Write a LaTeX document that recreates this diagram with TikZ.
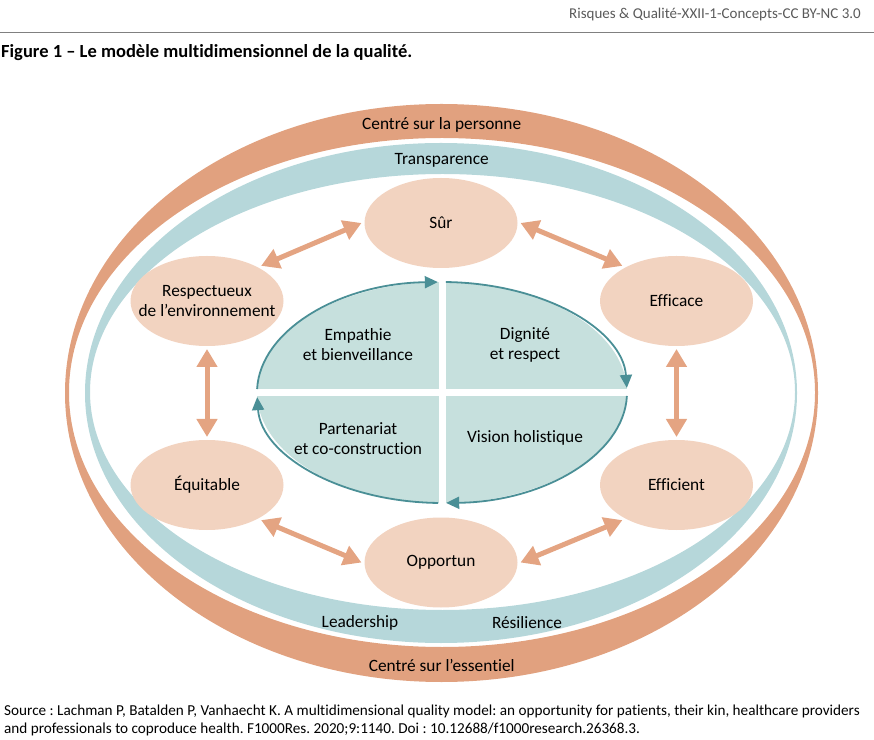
\documentclass[tikz,border=0pt]{standalone}
\usepackage{fontspec}
\setmainfont{Carlito}[Ligatures=NoCommon]
\usetikzlibrary{arrows.meta,shapes.geometric}
\definecolor{bandO}{HTML}{E1A17F}
\definecolor{bandT}{HTML}{B6D7DA}
\definecolor{pale}{HTML}{F2D3C0}
\definecolor{coreF}{HTML}{C6E0DD}
\definecolor{coreL}{HTML}{4A8F96}
\definecolor{arrO}{HTML}{E4A482}
\definecolor{hdrgray}{HTML}{5A5A5A}
\begin{document}
\frenchspacing
\begin{tikzpicture}[x=1pt,y=1pt,
  lbl/.style={font=\fontsize{17.3}{20}\selectfont, align=center, inner sep=0pt},
  dim/.style={ellipse, fill=pale, minimum width=153pt, minimum height=90pt, inner sep=0pt, outer sep=3pt},
  dbl/.style={draw=arrO, line width=5pt, {Triangle[length=18pt,width=20pt]}-{Triangle[length=18pt,width=20pt]}},
  cyc/.style={draw=coreL, line width=1.8pt, -{Triangle[length=13pt,width=12pt]}}]
\useasboundingbox (0,0) rectangle (874,739);
% header
\node[anchor=east, text=hdrgray, font=\fontsize{15}{18}\selectfont, inner sep=0pt] (hdr) at (861,724) {Risques \& Qualité-XXII-1-Concepts-CC BY-NC 3.0};
\draw[gray, line width=0.8pt] (0,707) -- (874,707);
\node[anchor=west, font=\fontsize{18.5}{21}\selectfont\bfseries, inner sep=0pt] (title) at (1,686) {Figure 1 – Le modèle multidimensionnel de la qualité.};
% bands
\fill[bandO, even odd rule] (441.5,346) ellipse[x radius=376.5, y radius=289] (442,346.5) ellipse[x radius=373, y radius=254.5];
\fill[bandT, even odd rule] (441,346) ellipse[x radius=356, y radius=250] (442.5,347) ellipse[x radius=352.5, y radius=218];
\node[lbl] (cp) at (441.7,614) {Centré sur la personne};
\node[lbl] (tr) at (441.7,579) {Transparence};
\node[lbl] (ld) at (360,116.3) {Leadership};
\node[lbl] (rs) at (527,116.3) {Résilience};
\node[lbl] (ce) at (441.7,74) {Centré sur l’essentiel};
% core
\node[ellipse, fill=coreF, minimum width=370pt, minimum height=221pt, inner sep=0pt] (core) at (442,346.5) {};
\fill[white] (438.5,234) rectangle (445.5,459);
\fill[white] (254,343) rectangle (630,350);
\draw[cyc] ([shift={(core.center)}]178.2:185 and 110.5) arc[start angle=178.2, end angle=91.3, x radius=185, y radius=110.5];
\draw[cyc] ([shift={(core.center)}]88.8:185 and 110.5) arc[start angle=88.8, end angle=2.4, x radius=185, y radius=110.5];
\draw[cyc] ([shift={(core.center)}]-1.8:185 and 110.5) arc[start angle=-1.8, end angle=-88.7, x radius=185, y radius=110.5];
\draw[cyc] ([shift={(core.center)}]-91.2:185 and 110.5) arc[start angle=-91.2, end angle=-177.6, x radius=185, y radius=110.5];
\node[lbl] (emp) at (358,394.5) {Empathie\\et bienveillance};
\node[lbl] (dig) at (525,394.5) {Dignité\\et respect};
\node[lbl] (par) at (358,300.7) {Partenariat\\et co-construction};
\node[lbl] (vis) at (525,300.7) {Vision holistique};
% dimensions
\node[dim, label={[lbl]center:Sûr}] (sur) at (441,516) {};
\node[dim, label={[lbl]center:Respectueux\\de l’environnement}] (resp) at (207,438) {};
\node[dim, label={[lbl]center:Efficace}] (effa) at (676.5,438) {};
\node[dim, label={[lbl]center:Équitable}] (equi) at (207,254) {};
\node[dim, label={[lbl]center:Efficient}] (effi) at (676.5,254) {};
\node[dim, label={[lbl]center:Opportun}] (opp) at (441,176.5) {};
\draw[dbl] (resp.33) -- (sur.west);
\draw[dbl] (sur.east) -- (effa.147);
\draw[dbl] (resp.south) -- (equi.north);
\draw[dbl] (effa.south) -- (effi.north);
\draw[dbl] (equi.-33) -- (opp.west);
\draw[dbl] (opp.east) -- (effi.-147);
% source
\node[anchor=west, font=\fontsize{15.2}{18}\selectfont, inner sep=0pt] (src1) at (4,28) {Source : Lachman P, Batalden P, Vanhaecht K. A multidimensional quality model: an opportunity for patients, their kin, healthcare providers};
\node[anchor=west, font=\fontsize{15.2}{18}\selectfont, inner sep=0pt] (src2) at (4,10) {and professionals to coproduce health. F1000Res. 2020;9:1140. Doi : 10.12688/f1000research.26368.3.};
\end{tikzpicture}
\end{document}
